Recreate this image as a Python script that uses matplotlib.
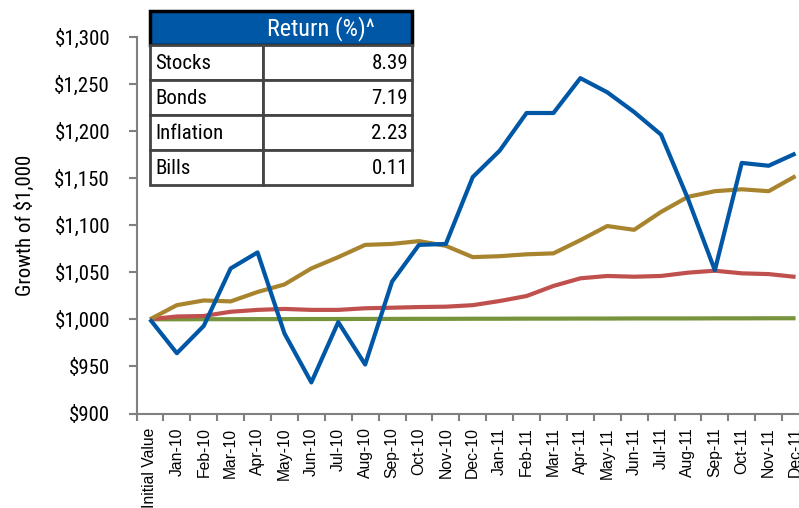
import os
import numpy as np
import matplotlib
matplotlib.use('Agg')
import matplotlib.pyplot as plt
from matplotlib.patches import Rectangle
from matplotlib import font_manager

months = ["Initial Value", "Jan-10", "Feb-10", "Mar-10", "Apr-10", "May-10", "Jun-10",
          "Jul-10", "Aug-10", "Sep-10", "Oct-10", "Nov-10", "Dec-10",
          "Jan-11", "Feb-11", "Mar-11", "Apr-11", "May-11", "Jun-11",
          "Jul-11", "Aug-11", "Sep-11", "Oct-11", "Nov-11", "Dec-11"]

stocks = [1000, 964, 993, 1054, 1071, 985, 933, 997, 952, 1040, 1079, 1080, 1151,
          1179, 1219, 1219, 1256, 1241, 1220, 1196, 1128, 1052, 1166, 1163, 1176]
bonds = [1000, 1015, 1020, 1019, 1029, 1037, 1054, 1066, 1079, 1080, 1083, 1078, 1066,
         1067, 1069, 1070, 1084, 1099, 1095, 1114, 1130, 1136, 1138, 1136, 1152]
inflation = [1000, 1003, 1003.5, 1008, 1010, 1011, 1010, 1010, 1011.7, 1012.3, 1013, 1013.4, 1015,
             1019.4, 1024.7, 1035.4, 1043.5, 1046, 1045.2, 1046, 1049.5, 1051.6, 1048.8, 1048, 1045]
bills = [1000, 1000.0, 1000.1, 1000.1, 1000.2, 1000.2, 1000.3, 1000.3, 1000.4, 1000.4, 1000.5, 1000.5, 1000.6,
         1000.6, 1000.7, 1000.7, 1000.8, 1000.8, 1000.9, 1000.9, 1000.9, 1001.0, 1001.0, 1001.1, 1001.1]

table_rows = ["Stocks", "Bonds", "Inflation", "Bills"]
table_vals = ["8.39", "7.19", "2.23", "0.11"]

yticks = [900, 950, 1000, 1050, 1100, 1150, 1200, 1250, 1300]

# look for a narrow font file, the chart uses a condensed face
files = font_manager.findSystemFonts() + [f.fname for f in font_manager.fontManager.ttflist]
narrow = None
for key in ['RobotoCondensed-Regular', 'LiberationSansNarrow-Regular', 'DejaVuSansCondensed.ttf',
            'NotoSans-Condensed.ttf', 'NotoSans-CondensedRegular', 'OpenSans_Condensed-Regular',
            'OpenSans-CondensedRegular']:
    hits = [f for f in files if key in os.path.basename(f)]
    if hits:
        narrow = hits[0]
        break
if narrow is None:
    hits = [f for f in files if ('Condensed' in f or 'Narrow' in f) and 'Bold' not in f
            and 'Italic' not in f and 'Oblique' not in f]
    if hits:
        narrow = sorted(hits)[0]

if narrow:
    cond = font_manager.FontProperties(fname=narrow, size=15)
    head = font_manager.FontProperties(fname=narrow, size=17.5)
else:
    cond = font_manager.FontProperties(family='Roboto', size=13.5)
    head = font_manager.FontProperties(family='Roboto', size=15.5)

fig = plt.figure(figsize=(7.99, 5.08), dpi=100)
ax = fig.add_axes([136.5/799, 1-413.5/508, 672.5/799, 376.8/508])

x = np.arange(len(months))
ax.plot(x, bills, color='#77933C', lw=3, solid_capstyle='butt')
ax.plot(x, inflation, color='#C0504D', lw=3, solid_capstyle='butt')
ax.plot(x, bonds, color='#A8842F', lw=3, solid_capstyle='butt')
ax.plot(x, stocks, color='#0057A6', lw=3, solid_capstyle='butt')

ax.set_xlim(-0.5, len(months)-0.5)
ax.set_ylim(900, 1300)
ax.set_yticks(yticks)
ax.set_yticklabels(['${:,}'.format(v) for v in yticks])
ax.tick_params(axis='y', direction='out', length=6, width=1.5, color='#808080', pad=13)
for t in ax.get_yticklabels():
    t.set_fontproperties(cond)

ax.set_xticks(np.arange(len(months)+1)-0.5)
ax.set_xticklabels([])
ax.set_xticks(x, minor=True)
ax.set_xticklabels(months, minor=True, rotation=90, va='top')
ax.tick_params(axis='x', which='major', direction='out', length=5, width=1.5, color='#808080')
ax.tick_params(axis='x', which='minor', length=0, pad=10, labelsize=11.3)
for t in ax.get_xticklabels(minor=True):
    t.set_fontfamily('Liberation Sans')

for s in ['top', 'right']:
    ax.spines[s].set_visible(False)
for s in ['left', 'bottom']:
    ax.spines[s].set_color('#808080')
    ax.spines[s].set_linewidth(1.5)

ax.set_ylabel('Growth of $1,000', fontproperties=cond)
ax.yaxis.set_label_coords(-102/672.5, 0.5)

# return table at the top left
tw, rh, hh, cw = 262, 35, 34.3, 112.7
tax = fig.add_axes([150/799, 1-185/508, tw/799, (hh+4*rh)/508])
tax.set_xlim(0, tw)
tax.set_ylim(hh+4*rh, 0)
tax.axis('off')
tax.add_patch(Rectangle((0, 0), tw, hh, facecolor='#0057A6', edgecolor='black', lw=2.5, clip_on=False))
tax.text(171, hh/2+1, 'Return (%)^', color='white', ha='center', va='center', fontproperties=head)
for i, (name, val) in enumerate(zip(table_rows, table_vals)):
    y0 = hh + i*rh
    tax.add_patch(Rectangle((0, y0), cw, rh, facecolor='white', edgecolor='#444444', lw=2, clip_on=False))
    tax.add_patch(Rectangle((cw, y0), tw-cw, rh, facecolor='white', edgecolor='#444444', lw=2, clip_on=False))
    tax.text(5, y0+rh/2+1, name, ha='left', va='center', fontproperties=cond)
    tax.text(tw-4, y0+rh/2+1, val, ha='right', va='center', fontproperties=cond)

fig.savefig('out.png', dpi=100)
